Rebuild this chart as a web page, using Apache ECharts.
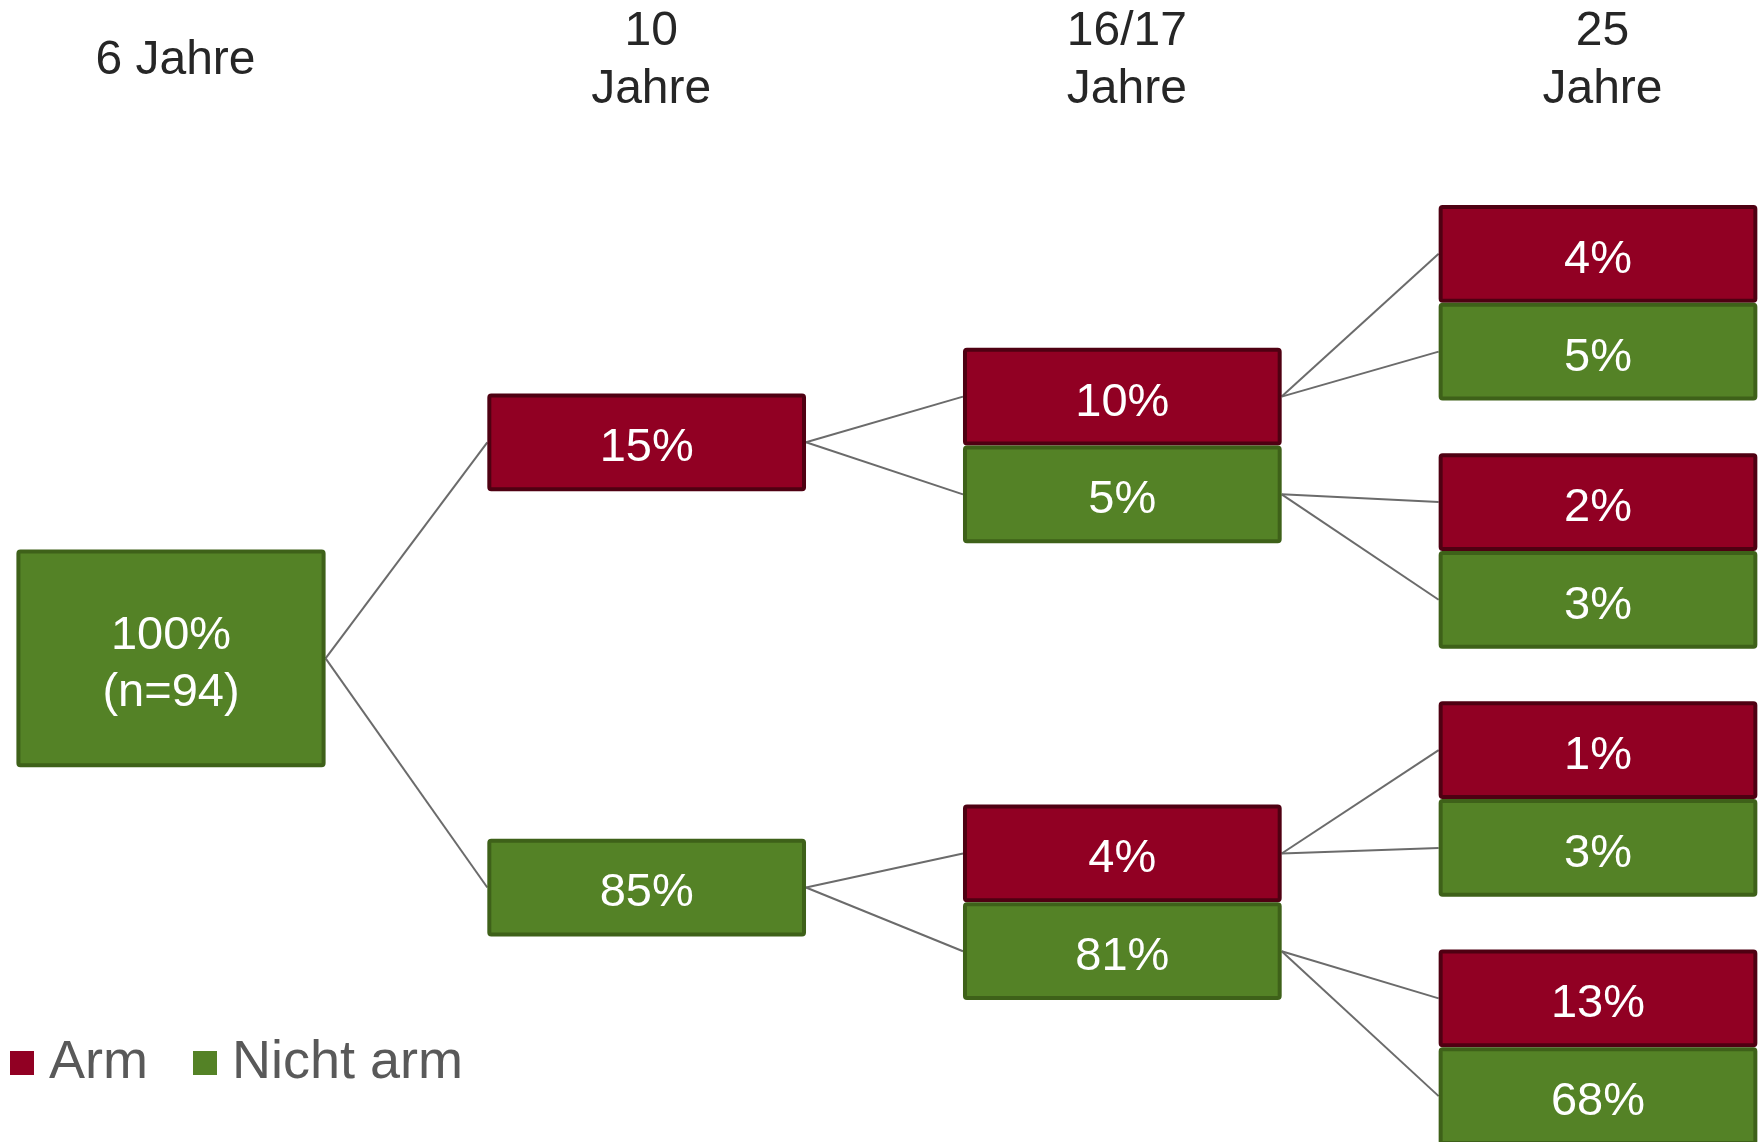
<!DOCTYPE html>
<html>
<head>
<meta charset="utf-8">
<script src="https://cdn.jsdelivr.net/npm/echarts@6/dist/echarts.min.js"></script>
<style>
  html, body { margin: 0; padding: 0; background: #ffffff; }
  #chart { width: 1762px; height: 1142px; }
</style>
</head>
<body>
<div id="chart"></div>
<script>
// ---------------- DATA ----------------
const ageLabels = ['6 Jahre', '10\nJahre', '16/17\nJahre', '25\nJahre'];
const seriesNames = ['Arm', 'Nicht arm'];
const sampleSize = 94;
const startShare = 100;               // at 6 years: all children (n=94), "nicht arm" group
const share10 = [15, 85];             // at 10: [arm, nicht arm]
const share16Arm = [10, 4];           // at 16/17, per 10-year branch [arm branch, nicht-arm branch]
const share16NichtArm = [5, 81];
const share25Arm = [4, 2, 1, 13];     // at 25, per 16/17 node (10%, 5%, 4%, 81%)
const share25NichtArm = [5, 3, 3, 68];

// ---------------- LAYOUT (axis units) ----------------
const LEVEL_MID = [5.604, 5.671, 5.764, 5.775]; // vertical centre of each column
const SPREAD_10 = 4.6;   // distance between the two boxes at 10
const SPREAD_16 = 4.72;  // distance between the two pairs at 16/17
const SPREAD_25 = 2.564; // distance between pairs at 25
const BOX_H = 1.01;      // box height
const ROOT_H = 2.25;
const BOX_W = 0.67;      // fraction of column distance
const ROOT_W = 0.65;

const COLORS = {
  arm: { fill: '#910023', stroke: '#4f0012' },
  not: { fill: '#548226', stroke: '#3e6119' }
};

// build nodes from the data
const nodes = [];
function addNode(level, y, kind, value, parent, label, h, w) {
  nodes.push({ level, y, kind, value, parent, label: label || (value + '%'), h: h || BOX_H, w: w || BOX_W });
  return nodes.length - 1;
}
const root = addNode(0, LEVEL_MID[0], 'not', startShare, -1, startShare + '%\n(n=' + sampleSize + ')', ROOT_H, ROOT_W);
const lvl1 = [
  addNode(1, LEVEL_MID[1] - SPREAD_10 / 2, 'arm', share10[0], root),
  addNode(1, LEVEL_MID[1] + SPREAD_10 / 2, 'not', share10[1], root)
];
const lvl2 = [];
for (let i = 0; i < 2; i++) {
  const pc = LEVEL_MID[2] + (i - 0.5) * SPREAD_16;
  lvl2.push(addNode(2, pc - BOX_H / 2, 'arm', share16Arm[i], lvl1[i]));
  lvl2.push(addNode(2, pc + BOX_H / 2, 'not', share16NichtArm[i], lvl1[i]));
}
for (let k = 0; k < 4; k++) {
  const pc = LEVEL_MID[3] + (k - 1.5) * SPREAD_25;
  addNode(3, pc - BOX_H / 2, 'arm', share25Arm[k], lvl2[k]);
  addNode(3, pc + BOX_H / 2, 'not', share25NichtArm[k], lvl2[k]);
}

const armNodes = nodes.filter(n => n.kind === 'arm');
const notNodes = nodes.filter(n => n.kind === 'not');
const links = nodes.filter(n => n.parent >= 0).map(n => ({ p: nodes[n.parent], c: n }));

function boxRender(list, kind) {
  return function (params, api) {
    const n = list[params.dataIndex];
    const c = api.coord([n.level, n.y]);
    const band = api.coord([1, 0])[0] - api.coord([0, 0])[0];
    const unit = Math.abs(api.coord([0, 1])[1] - api.coord([0, 0])[1]);
    const w = band * n.w, h = n.h * unit;
    const lw = 4;
    return {
      type: 'rect',
      shape: { x: c[0] - w / 2 + lw / 2, y: c[1] - h / 2 + lw / 2, width: w - lw, height: h - lw, r: 2 },
      style: { fill: COLORS[kind].fill, stroke: COLORS[kind].stroke, lineWidth: lw },
      textContent: {
        style: {
          text: n.label,
          fill: '#ffffff',
          fontSize: 47,
          lineHeight: 57,
          fontFamily: 'Liberation Sans, Arial, sans-serif',
          align: 'center',
          verticalAlign: 'middle'
        }
      },
      textConfig: { position: 'inside', offset: [0, 6] }
    };
  };
}

function linkRender(params, api) {
  const l = links[params.dataIndex];
  const band = api.coord([1, 0])[0] - api.coord([0, 0])[0];
  const a = api.coord([l.p.level, l.p.y]);
  const b = api.coord([l.c.level, l.c.y]);
  return {
    type: 'line',
    shape: { x1: a[0] + band * l.p.w / 2, y1: a[1], x2: b[0] - band * l.c.w / 2, y2: b[1] },
    style: { stroke: '#6b6b6b', lineWidth: 2 }
  };
}

const chart = echarts.init(document.getElementById('chart'));
chart.setOption({
  animation: false,
  backgroundColor: '#ffffff',
  grid: { left: 171, right: 164, top: 116, bottom: 0 },
  xAxis: {
    type: 'category',
    data: ageLabels,
    position: 'top',
    boundaryGap: false,
    axisLine: { show: false },
    axisTick: { show: false },
    splitLine: { show: false },
    axisLabel: {
      interval: 0,
      margin: 55,
      verticalAlign: 'middle',
      fontSize: 48,
      lineHeight: 58,
      color: '#262626',
      fontFamily: 'Liberation Sans, Arial, sans-serif',
      align: 'center',
      padding: [0, 0, 0, 9]
    }
  },
  yAxis: {
    type: 'value',
    min: 0,
    max: 10.6,
    inverse: true,
    show: false,
    splitLine: { show: false }
  },
  legend: {
    data: seriesNames,
    left: 10,
    top: 1033,
    padding: 0,
    icon: 'rect',
    itemWidth: 24,
    itemHeight: 24,
    itemGap: 45,
    itemStyle: { borderWidth: 0 },
    textStyle: {
      fontSize: 54,
      lineHeight: 60,
      color: '#595959',
      fontFamily: 'Liberation Sans, Arial, sans-serif',
      padding: [0, 0, 0, 10]
    }
  },
  series: [
    {
      type: 'custom',
      name: 'links',
      renderItem: linkRender,
      data: links.map((l, i) => [i]),
      silent: true,
      z: 1
    },
    {
      type: 'custom',
      name: seriesNames[0],
      itemStyle: { color: COLORS.arm.fill },
      renderItem: boxRender(armNodes, 'arm'),
      data: armNodes.map(n => [n.level, n.y, n.value]),
      z: 2
    },
    {
      type: 'custom',
      name: seriesNames[1],
      itemStyle: { color: COLORS.not.fill },
      renderItem: boxRender(notNodes, 'not'),
      data: notNodes.map(n => [n.level, n.y, n.value]),
      z: 3
    }
  ]
});
</script>
</body>
</html>
